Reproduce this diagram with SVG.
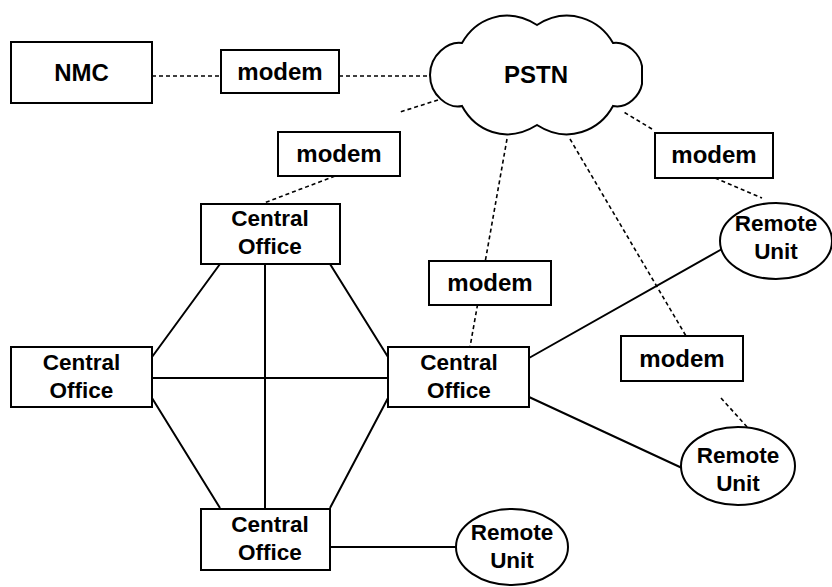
<svg xmlns="http://www.w3.org/2000/svg" width="832" height="587" viewBox="0 0 832 587">
<style>
.b{fill:#fff;stroke:#000;stroke-width:2}
.s{fill:none;stroke:#000;stroke-width:2}
.d{fill:none;stroke:#000;stroke-width:1.6;stroke-dasharray:4 3}
text{font-family:"Liberation Sans",Arial,sans-serif;font-weight:bold;fill:#000;text-anchor:middle}
.l{font-size:24px}
.m{font-size:22.5px}
</style>
<rect width="832" height="587" fill="#fff"/>
<g id="connectors">
<path class="d" d="M152 76H221M339 76H430M438 100L400 112M335 176L264 203M507 139L470 347M652 129L622 111M570 139L686 336M721 398L748 428M715 178L762 198"/>
<path class="s" d="M220 264L152 357M330 264L388 357M265 264V508M152 378H388M152 398L220 508M388 398L330 508M529 358L722 249M529 397L682 468M330 547H456"/>
</g>
<g id="nmc"><rect class="b" x="11" y="42" width="141" height="61"/><text class="l" x="81.500" y="81">NMC</text></g>
<g id="modem1"><rect class="b" x="221" y="50" width="118" height="43"/><text class="l" x="280" y="80">modem</text></g>
<g id="pstn"><path class="b" d="M430 75C430 55 448 41 462 43C475 20 505 5 537 25C568 5 600 20 613 43C628 41 640 55 642 66V84C640 95 628 109 613 106C600 130 568 145 537 125C505 145 475 130 462 106C448 109 430 95 430 75Z"/><text class="l" x="536" y="83">PSTN</text></g>
<g id="modem2"><rect class="b" x="278" y="132" width="122" height="44"/><text class="l" x="339" y="162">modem</text></g>
<g id="modem3"><rect class="b" x="655" y="133" width="118" height="45"/><text class="l" x="714" y="163">modem</text></g>
<g id="modem4"><rect class="b" x="429" y="261" width="122" height="44"/><text class="l" x="490" y="291">modem</text></g>
<g id="modem5"><rect class="b" x="621" y="336" width="122" height="45"/><text class="l" x="682" y="367">modem</text></g>
<g id="co1"><rect class="b" x="201" y="204" width="139" height="60"/><text class="m" x="270" y="226">Central</text><text class="m" x="270" y="254">Office</text></g>
<g id="co2"><rect class="b" x="11" y="347" width="141" height="60"/><text class="m" x="81.500" y="370">Central</text><text class="m" x="81.500" y="398">Office</text></g>
<g id="co3"><rect class="b" x="388" y="347" width="141" height="60"/><text class="m" x="459" y="370">Central</text><text class="m" x="459" y="398">Office</text></g>
<g id="co4"><rect class="b" x="201" y="509" width="129" height="61"/><text class="m" x="270" y="532">Central</text><text class="m" x="270" y="560">Office</text></g>
<g id="ru1"><ellipse class="b" cx="776" cy="241" rx="56" ry="38"/><text class="m" x="776" y="231">Remote</text><text class="m" x="776" y="259">Unit</text></g>
<g id="ru2"><ellipse class="b" cx="738" cy="466" rx="57" ry="39"/><text class="m" x="738" y="463">Remote</text><text class="m" x="738" y="491">Unit</text></g>
<g id="ru3"><ellipse class="b" cx="512" cy="547" rx="56" ry="38"/><text class="m" x="512" y="540">Remote</text><text class="m" x="512" y="568">Unit</text></g>
</svg>
